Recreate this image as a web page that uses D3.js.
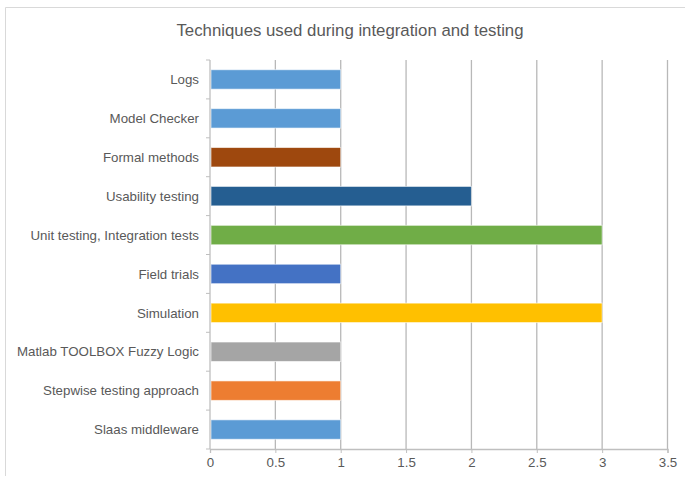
<!DOCTYPE html>
<html>
<head>
<meta charset="utf-8">
<script src="https://cdn.jsdelivr.net/npm/d3@7"></script>
<style>
  body { margin: 0; background: #fff; }
  text { font-family: "Liberation Sans", Arial, sans-serif; fill: #595959; }
</style>
</head>
<body>
<div id="chart"></div>
<script>
// chart data, top to bottom as drawn
var categories = ["Logs", "Model Checker", "Formal methods", "Usability testing",
  "Unit testing, Integration tests", "Field trials", "Simulation",
  "Matlab TOOLBOX Fuzzy Logic", "Stepwise testing approach", "Slaas middleware"];
var counts = [1, 1, 1, 2, 3, 1, 3, 1, 1, 1];
var barColors = ["#5b9bd5", "#5b9bd5", "#9e480e", "#255e91", "#70ad47",
  "#4472c4", "#ffc000", "#a5a5a5", "#ed7d31", "#5b9bd5"];
var xTicks = [0, 0.5, 1, 1.5, 2, 2.5, 3, 3.5];

var svgWidth = 685, svgHeight = 477;
var margin = {top: 60, right: 17.5, bottom: 28, left: 210};
var width = svgWidth - margin.left - margin.right;
var height = svgHeight - margin.top - margin.bottom;

var svg = d3.select("#chart").append("svg")
  .attr("width", svgWidth)
  .attr("height", svgHeight);

// outer frame (only top and left edges show in the picture)
svg.append("path")
  .attr("d", "M5.5,476 L5.5,7.5 L685,7.5")
  .attr("fill", "none")
  .attr("stroke", "#d9d9d9");

svg.append("text")
  .attr("x", 350)
  .attr("y", 36)
  .attr("text-anchor", "middle")
  .style("font-size", "16.8px")
  .text("Techniques used during integration and testing");

var chartGroup = svg.append("g")
  .attr("transform", `translate(${margin.left}, ${margin.top})`);

var x = d3.scaleLinear().domain([0, 3.5]).range([0, width]);
var y = d3.scaleBand().domain(categories).range([0, height]).paddingInner(0.5).paddingOuter(0.25);

// vertical gridlines
chartGroup.selectAll(".grid")
  .data(xTicks.slice(1))
  .enter().append("line")
  .attr("x1", d => x(d)).attr("x2", d => x(d))
  .attr("y1", 0).attr("y2", height)
  .attr("stroke", "#b8b8b8")
  .attr("stroke-width", 1.3);

// bars
chartGroup.selectAll(".bar")
  .data(counts)
  .enter().append("rect")
  .attr("x", x(0) + 1)
  .attr("y", (d, i) => y(categories[i]))
  .attr("width", d => x(d) - x(0) - 1)
  .attr("height", y.bandwidth())
  .attr("fill", (d, i) => barColors[i])
  .attr("stroke", "#ffffff")
  .attr("stroke-opacity", 0.6)
  .attr("stroke-width", 1);

// x axis
var xAxis = chartGroup.append("g")
  .attr("transform", `translate(0, ${height})`)
  .call(d3.axisBottom(x).tickValues(xTicks).tickFormat(d3.format("")).tickSize(4).tickPadding(5));
xAxis.select(".domain").attr("stroke", "#bfbfbf").attr("stroke-width", 1.3);
xAxis.selectAll(".tick line").attr("stroke", "#bfbfbf");
xAxis.selectAll(".tick text").style("font-size", "13.3px").attr("fill", "#595959");

// y axis with ticks at category boundaries
var boundaries = d3.range(categories.length + 1).map(i => i * height / categories.length);
chartGroup.append("line")
  .attr("x1", 0).attr("x2", 0).attr("y1", 0).attr("y2", height)
  .attr("stroke", "#bfbfbf").attr("stroke-width", 1.3);
chartGroup.selectAll(".ytick")
  .data(boundaries)
  .enter().append("line")
  .attr("x1", -4).attr("x2", 0)
  .attr("y1", d => d).attr("y2", d => d)
  .attr("stroke", "#bfbfbf");

chartGroup.selectAll(".ylabel")
  .data(categories)
  .enter().append("text")
  .attr("x", -11)
  .attr("y", d => y(d) + y.bandwidth() / 2)
  .attr("dy", "0.35em")
  .attr("text-anchor", "end")
  .style("font-size", "13.3px")
  .text(d => d);
</script>
</body>
</html>
